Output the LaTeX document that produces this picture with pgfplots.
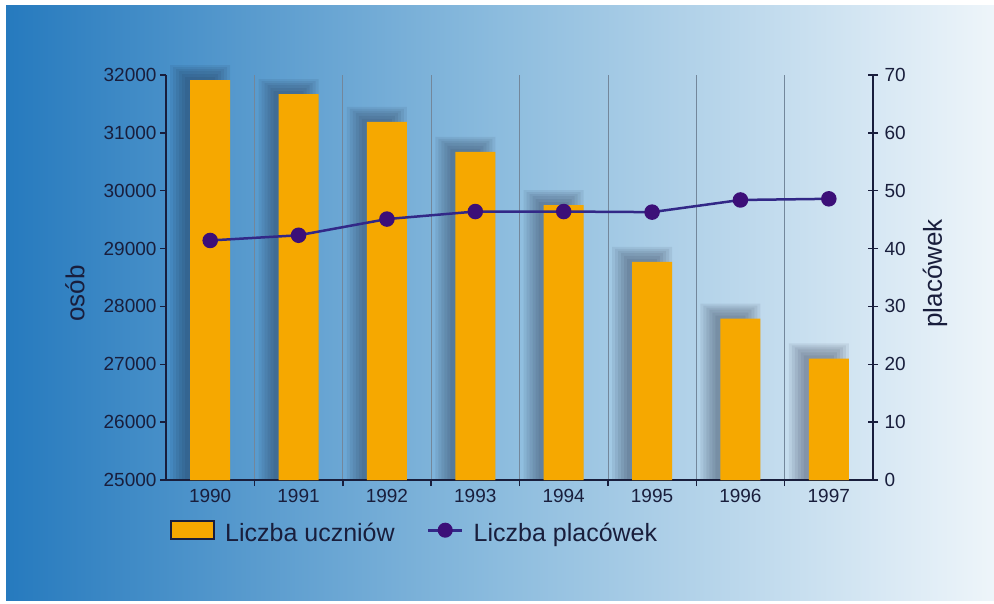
\documentclass[border=0pt]{standalone}
\usepackage{pgfplots}
\usepackage{pgfplotstable}
\pgfplotsset{compat=1.18}
\usepackage{fontspec}
\setmainfont{Liberation Sans}
\definecolor{barorange}{RGB}{246,168,0}
\definecolor{axiscol}{RGB}{25,30,60}
\definecolor{linecol}{RGB}{50,40,135}
\definecolor{markcol}{RGB}{60,15,120}
\definecolor{bgleft}{RGB}{38,122,190}
\definecolor{bgmid}{RGB}{140,188,222}
\definecolor{bgright}{RGB}{238,245,250}
\definecolor{gridcol}{RGB}{115,135,155}
\definecolor{shadowcol}{RGB}{20,30,55}
\pgfplotstableread{
x y
0 31910
1 31670
2 31190
3 30670
4 29750
5 28770
6 27790
7 27100
}\uczniowie
\pgfplotstableread{
x y
0 41.4
1 42.3
2 45.1
3 46.4
4 46.4
5 46.3
6 48.4
7 48.6
}\placowki
\pgfplotsset{
  mylinelegend/.style={legend image code/.code={\draw[##1, sharp plot, mark repeat=2, mark phase=2] plot coordinates {(0pt,3pt) (17pt,3pt) (34pt,3pt)};}},
  mybarlegend/.style={legend image code/.code={\draw[fill=barorange, draw=axiscol, line width=2pt] (0pt,-6pt) rectangle (43pt,12pt);}},
  shadowbar/.style={ybar, bar shift=-10pt, fill=shadowcol, fill opacity=0.075, draw=none, forget plot},
}
\begin{document}
\begin{tikzpicture}
\path[fill=white] (0,0) rectangle (994pt,603pt);
\shade[left color=bgleft, right color=bgright, middle color=bgmid] (6pt,3pt) rectangle (994pt,597pt);
% shadows of the bars
\begin{scope}
\clip (160pt,123pt) rectangle (873pt,548pt);
\begin{axis}[
  at={(166pt,108pt)}, anchor=south west, scale only axis,
  width=707pt, height=440pt,
  xmin=-0.5, xmax=7.5, ymin=24740.74, ymax=32345.68,
  hide axis,
]
\addplot[shadowbar, bar width=30pt, yshift=3pt] table[x=x,y=y] {\uczniowie};
\addplot[shadowbar, bar width=36pt, yshift=6pt] table[x=x,y=y] {\uczniowie};
\addplot[shadowbar, bar width=42pt, yshift=9pt] table[x=x,y=y] {\uczniowie};
\addplot[shadowbar, bar width=48pt, yshift=11pt] table[x=x,y=y] {\uczniowie};
\addplot[shadowbar, bar width=54pt, yshift=13pt] table[x=x,y=y] {\uczniowie};
\addplot[shadowbar, bar width=60pt, yshift=15pt] table[x=x,y=y] {\uczniowie};
\end{axis}
\end{scope}
\begin{axis}[
  at={(166pt,123pt)}, anchor=south west, scale only axis,
  width=707pt, height=405pt,
  xmin=-0.5, xmax=7.5, ymin=25000, ymax=32000,
  axis x line*=bottom, axis y line*=left,
  axis line style={line width=2pt, color=axiscol},
  xtick={0,1,2,3,4,5,6,7},
  xticklabels={1990,1991,1992,1993,1994,1995,1996,1997},
  ytick={25000,26000,...,32000},
  scaled y ticks=false,
  yticklabel style={/pgf/number format/.cd, fixed, 1000 sep={}},
  tick align=outside,
  major tick length=6pt,
  x tick style={draw=none},
  minor xtick={0.5,1.5,...,6.5},
  minor x tick style={draw=axiscol, line width=1.5pt},
  minor tick length=6pt,
  xminorgrids=true,
  minor x grid style={gridcol, line width=0.7pt},
  y tick style={line width=1.5pt, color=axiscol},
  tick label style={font=\fontsize{19}{22}\selectfont, color=axiscol},
  /pgf/number format/assume math mode=true,
  ylabel={osób},
  every axis y label/.style={at={(rel axis cs:0,0.46)}, xshift=-91pt, rotate=90, anchor=center, font=\fontsize{26}{30}\selectfont, color=axiscol},
  legend columns=2,
  legend style={at={(0,0)}, anchor=north west, xshift=4pt, yshift=-40pt, draw=none, fill=none, inner sep=0pt,
    font=\fontsize{25}{29}\selectfont, text=axiscol,
    /tikz/every odd column/.append style={column sep=8pt},
    /tikz/every even column/.append style={column sep=30pt}},
]
\addplot[ybar, bar width=40pt, bar shift=0pt, fill=barorange, draw=none, forget plot]
  table[x=x,y=y] {\uczniowie};
\addlegendimage{mybarlegend}
\addlegendentry{Liczba uczniów}
\addlegendimage{mylinelegend, linecol, line width=3pt, mark=*, mark size=6pt, mark options={fill=markcol, draw=markcol}}
\addlegendentry{Liczba placówek}
\end{axis}
\begin{axis}[
  at={(166pt,123pt)}, anchor=south west, scale only axis,
  width=707pt, height=405pt,
  xmin=-0.5, xmax=7.5, ymin=0, ymax=70,
  axis x line=none, axis y line*=right,
  axis line style={line width=2pt, color=axiscol},
  ytick={0,10,...,70},
  tick align=center, major tick length=10pt,
  y tick style={line width=1.5pt, color=axiscol},
  tick label style={font=\fontsize{19}{22}\selectfont, color=axiscol},
  yticklabel style={xshift=3pt},
  /pgf/number format/assume math mode=true,
  ylabel={placówek},
  every axis y label/.style={at={(rel axis cs:1,0.51)}, xshift=62pt, rotate=90, anchor=center, font=\fontsize{26}{30}\selectfont, color=axiscol},
]
\addplot[linecol, line width=2.5pt, mark=*, mark size=6.5pt, mark options={fill=markcol, draw=markcol}]
  table[x=x,y=y] {\placowki};
\end{axis}
\end{tikzpicture}
\end{document}
